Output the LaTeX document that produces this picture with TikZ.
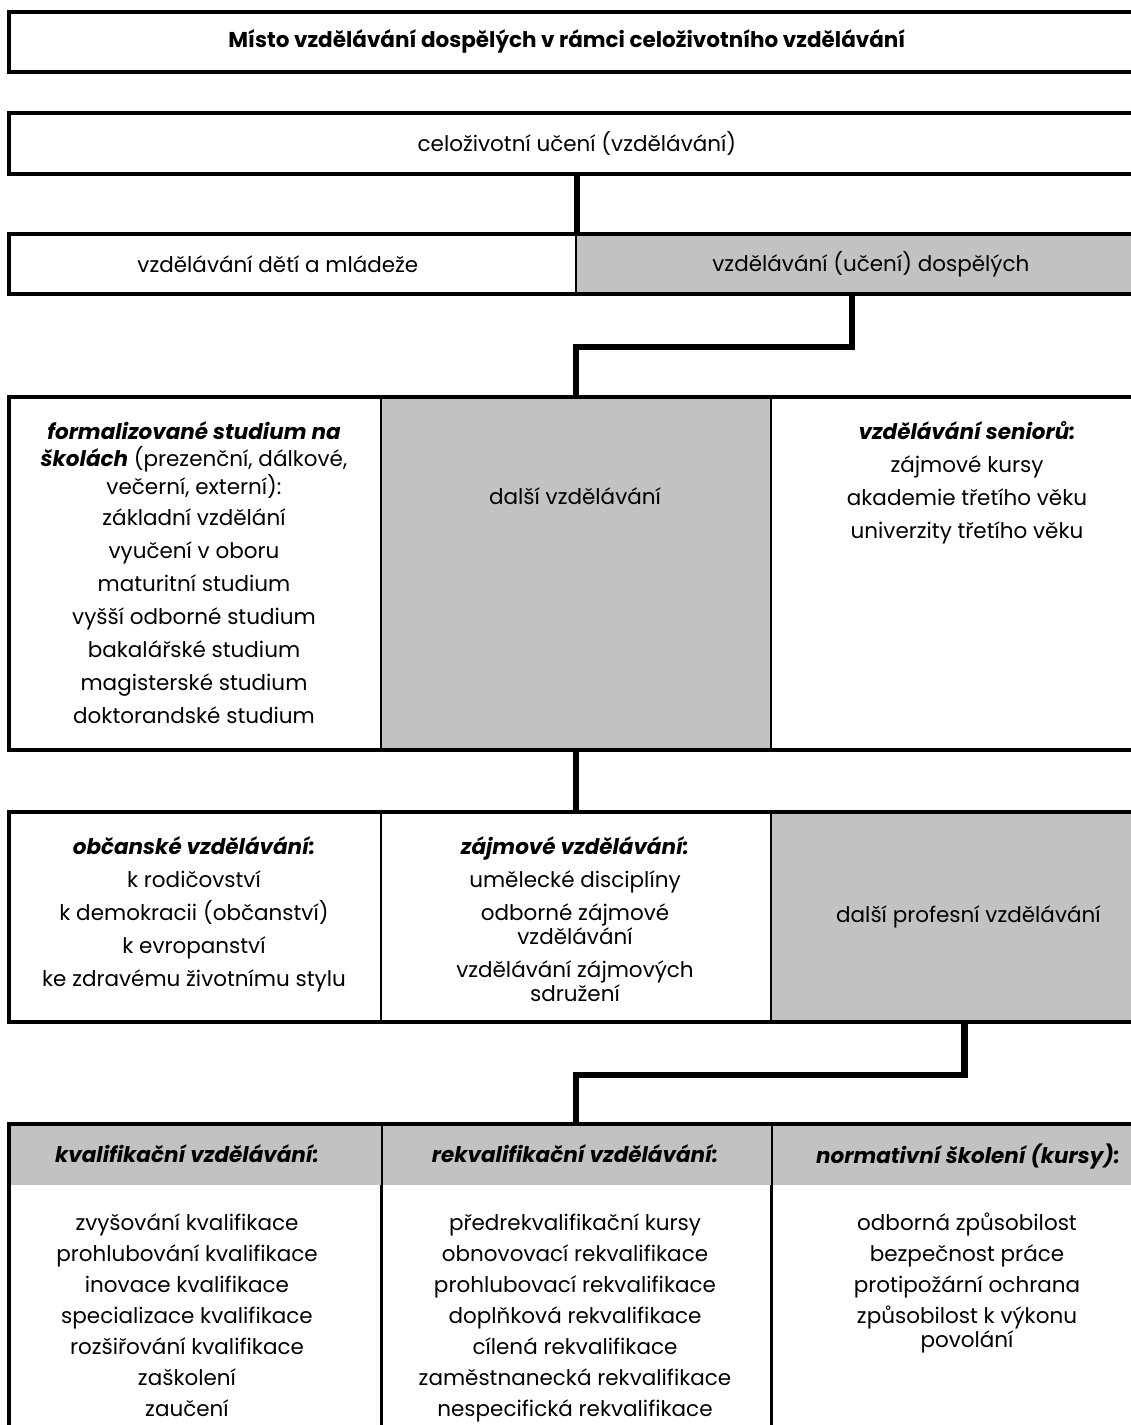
\documentclass[tikz,border=0pt]{standalone}
\usepackage{fontspec}
\setmainfont{Poppins}
\definecolor{shade}{gray}{0.76}
\newcommand{\bodyfont}{\fontsize{21.5}{25}\selectfont}
\begin{document}
\begin{tikzpicture}[x=1pt,y=-1pt,
  cell/.style={draw, line width=1.8pt, inner sep=0pt, anchor=north west},
  band/.style={fill=shade, draw=none, inner sep=0pt, anchor=north west},
  rowline/.style={draw, line width=3.8pt},
  conn/.style={draw, line width=6.5pt},
  txt/.style={font=\bodyfont, align=center, inner sep=0pt, anchor=north}]
\useasboundingbox (0,0) rectangle (1131,1425);
% row 1 and 2
\node[cell, minimum width=1156pt, minimum height=58pt, font=\bodyfont\bfseries] (title) at (9,12) {Místo vzdělávání dospělých v rámci celoživotního vzdělávání\hspace*{42pt}};
\draw[rowline] (title.north west) rectangle (title.south east);
\node[cell, minimum width=1156pt, minimum height=59pt, font=\bodyfont] (cel) at (9,113) {celoživotní učení (vzdělávání)\hspace*{22pt}};
\draw[rowline] (cel.north west) rectangle (cel.south east);
% row 3
\node[cell, minimum width=566pt, minimum height=58pt, font=\bodyfont] (r3l) at (9,234) {vzdělávání dětí a mládeže\hspace*{30pt}};
\node[cell, fill=shade, minimum width=590pt, minimum height=58pt, font=\bodyfont] (r3r) at (575,234) {vzdělávání (učení) dospělých};
\draw[rowline] (r3l.north west) rectangle (r3r.south east);
% row 4
\node[cell, minimum width=371pt, minimum height=351pt] (r4l) at (9,397) {};
\node[cell, fill=shade, minimum width=390pt, minimum height=351pt] (r4m) at (380,397) {};
\node[cell, minimum width=395pt, minimum height=351pt] (r4r) at (770,397) {};
\draw[rowline] (r4l.north west) rectangle (r4r.south east);
\node[txt] (t4l) at (194,421) {\textbf{\textit{formalizované studium na}}\\[2pt]
  \textbf{\textit{školách}} (prezenční, dálkové,\\[2pt]
  večerní, externí):\\[6pt]
  základní vzdělání\\[8pt]
  vyučení v oboru\\[8pt]
  maturitní studium\\[8pt]
  vyšší odborné studium\\[8pt]
  bakalářské studium\\[8pt]
  magisterské studium\\[8pt]
  doktorandské studium};
\node[txt] (t4m) at (575,487) {další vzdělávání};
\node[txt] (t4r) at (967,421) {\textbf{\textit{vzdělávání seniorů:}}\\[8pt]
  zájmové kursy\\[8pt]
  akademie třetího věku\\[8pt]
  univerzity třetího věku};
% row 5
\node[cell, minimum width=371pt, minimum height=208pt] (r5l) at (9,812) {};
\node[cell, minimum width=390pt, minimum height=208pt] (r5m) at (380,812) {};
\node[cell, fill=shade, minimum width=395pt, minimum height=208pt, font=\bodyfont] (r5r) at (770,812) {další profesní vzdělávání};
\draw[rowline] (r5l.north west) rectangle (r5r.south east);
\node[txt] (t5l) at (194,836) {\textbf{\textit{občanské vzdělávání:}}\\[8pt]
  k rodičovství\\[8pt]
  k demokracii (občanství)\\[8pt]
  k evropanství\\[8pt]
  ke zdravému životnímu stylu};
\node[txt] (t5m) at (575,836) {\textbf{\textit{zájmové vzdělávání:}}\\[8pt]
  umělecké disciplíny\\[8pt]
  odborné zájmové\\[-1pt]
  vzdělávání\\[8pt]
  vzdělávání zájmových\\[-1pt]
  sdružení};
% row 6
\node[cell, minimum width=371pt, minimum height=330pt] (r6l) at (9,1124) {};
\node[cell, minimum width=390pt, minimum height=330pt] (r6m) at (380,1124) {};
\node[cell, minimum width=395pt, minimum height=330pt] (r6r) at (770,1124) {};
\node[band, minimum width=371pt, minimum height=61pt] (h6l) at (9,1124) {};
\node[band, minimum width=390pt, minimum height=61pt] (h6m) at (380,1124) {};
\node[band, minimum width=395pt, minimum height=61pt] (h6r) at (770,1124) {};
\draw[line width=1.8pt] (r6l.north east) -- (r6l.south east) (r6m.north east) -- (r6m.south east);
\draw[rowline] (r6l.north west) rectangle (r6r.south east);
\node[txt] (h6lt) at (187,1144) {\textbf{\textit{kvalifikační vzdělávání:}}};
\node[txt] (h6mt) at (575,1144) {\textbf{\textit{rekvalifikační vzdělávání:}}};
\node[txt] (h6rt) at (968,1144) {\textbf{\textit{normativní školení (kursy):}}};
\node[txt] (t6l) at (187,1213) {zvyšování kvalifikace\\[6pt]
  prohlubování kvalifikace\\[6pt]
  inovace kvalifikace\\[6pt]
  specializace kvalifikace\\[6pt]
  rozšiřování kvalifikace\\[6pt]
  zaškolení\\[6pt]
  zaučení};
\node[txt] (t6m) at (575,1213) {předrekvalifikační kursy\\[6pt]
  obnovovací rekvalifikace\\[6pt]
  prohlubovací rekvalifikace\\[6pt]
  doplňková rekvalifikace\\[6pt]
  cílená rekvalifikace\\[6pt]
  zaměstnanecká rekvalifikace\\[6pt]
  nespecifická rekvalifikace};
\node[txt] (t6r) at (967,1213) {odborná způsobilost\\[6pt]
  bezpečnost práce\\[6pt]
  protipožární ochrana\\[6pt]
  způsobilost k výkonu\\[-1pt]
  povolání};
% connectors
\draw[conn] (r3l.north east |- cel.south) -- (r3l.north east);
\draw[conn] ([xshift=-19pt]r3r.south) -- ++(0,53) -| (r4m.north);
\draw[conn] (r4m.south) -- (r5m.north);
\draw[conn] ([xshift=-4pt]r5r.south) -- ++(0,53) -| (r6m.north);
\end{tikzpicture}
\end{document}
